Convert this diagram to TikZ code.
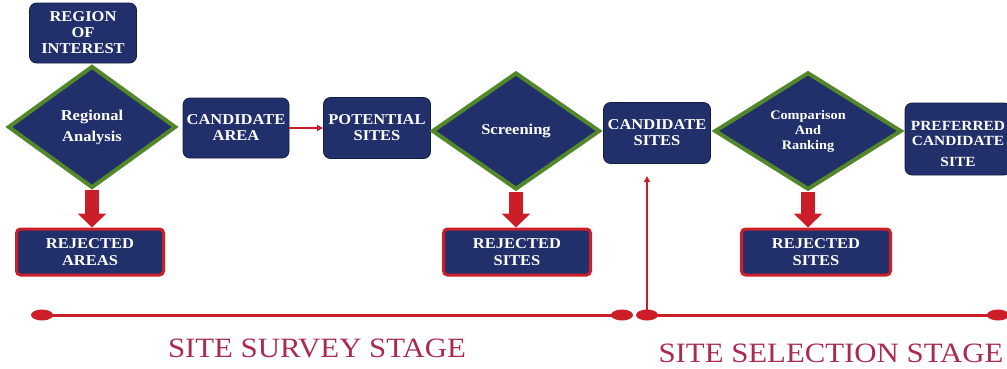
\documentclass[tikz,border=0pt]{standalone}
\usepackage{fontspec}
\setmainfont{Liberation Serif}[FakeStretch=1.1]
\usetikzlibrary{arrows.meta}
\usetikzlibrary{shapes.geometric}

\definecolor{navyfill}{RGB}{33,48,106}
\definecolor{leafgreen}{RGB}{82,136,42}
\definecolor{rejectred}{RGB}{204,30,40}
\definecolor{stagered}{RGB}{170,42,82}

\tikzset{
  box/.style={rectangle, rounded corners=7pt, fill=navyfill, draw=navyfill!60!black,
    line width=0.8pt, text=white, align=center, inner sep=0pt,
    font=\fontsize{15}{16}\selectfont\bfseries},
  decision/.style={diamond, fill=navyfill, draw=leafgreen, line width=4pt,
    text=white, align=center, inner sep=0pt,
    font=\fontsize{15}{16}\selectfont\bfseries},
  rejectbox/.style={rectangle, rounded corners=4pt, fill=navyfill, draw=rejectred,
    line width=3pt, text=white, align=center, inner sep=0pt,
    minimum width=147pt, minimum height=46pt,
    font=\fontsize{15}{17}\selectfont\bfseries},
  droparrow/.style={draw=rejectred, line width=14pt, -{Triangle[width=28pt,length=14pt]}},
  linkarrow/.style={draw=rejectred, line width=1.5pt, -{Triangle[width=6pt,length=6pt]}},
  timeline/.style={draw=rejectred, line width=3pt},
  stopdot/.style={ellipse, fill=rejectred, minimum width=22pt, minimum height=11pt, inner sep=0pt},
  stagelabel/.style={text=stagered, font=\fontsize{28}{30}\selectfont}
}

\begin{document}
\begin{tikzpicture}[x=1pt, y=1pt]
            \useasboundingbox (0,0) rectangle (1007,-368);

            % top row
            \node[box, minimum width=107pt, minimum height=60pt] (roi) at (83,-33) {REGION\\OF\\INTEREST};
            \node[decision, minimum width=168pt, minimum height=122pt] (regional) at (92,-127) {Regional\\[5pt]Analysis};
            \node[box, minimum width=106pt, minimum height=60pt] (carea) at (236,-128) {CANDIDATE\\AREA};
            \node[box, minimum width=107pt, minimum height=61pt] (psites) at (377,-128) {POTENTIAL\\SITES};
            \node[decision, minimum width=168pt, minimum height=117pt] (screening) at (516,-131) {Screening};
            \node[box, minimum width=107pt, minimum height=61pt] (csites) at (657,-133) {CANDIDATE\\SITES};
            \node[decision, minimum width=187pt, minimum height=117pt,
                  font=\fontsize{13}{15}\selectfont\bfseries] (ranking) at (808,-131) {Comparison\\And\\Ranking};
            \node[box, minimum width=106pt, minimum height=72pt,
                  font=\fontsize{14}{15}\selectfont\bfseries] (preferred) at (958,-139)
                  {\raisebox{-6pt}[\height][\depth]{\begin{tabular}{@{}c@{}}PREFERRED\\[0pt]CANDIDATE\\[6pt]SITE\end{tabular}}};

            % rejected boxes
            \node[rejectbox] (rareas) at (90,-252) {REJECTED\\AREAS};
            \node[rejectbox] (rsites) at (517,-252) {REJECTED\\SITES};
            \node[rejectbox, minimum width=149pt] (rsitesb) at (816,-252) {REJECTED\\SITES};

            \draw[droparrow] (regional.south) -- (regional.south |- rareas.north);
            \draw[droparrow] (screening.south) -- (screening.south |- rsites.north);
            \draw[droparrow] (ranking.south) -- (ranking.south |- rsitesb.north);
            \draw[linkarrow] (carea.east) -- (psites.west);

            % stage lines
            \node[stopdot] (surveystart) at (42,-315) {};
            \node[stopdot] (surveyend) at (622,-315) {};
            \node[stopdot] (selectstart) at (647,-315) {};
            \node[stopdot] (selectend) at (998,-315) {};
            \coordinate (csitesin) at (647,-176);

            \draw[timeline] (surveystart.center) -- (surveyend.center);
            \draw[timeline] (selectstart.center) -- (selectend.center);
            \draw[linkarrow] (selectstart.center) -- (csitesin);

            \node[stagelabel] (survey) at (317,-348) {SITE SURVEY STAGE};
            \node[stagelabel] (selection) at (831,-353) {SITE SELECTION STAGE};
        \end{tikzpicture}
\end{document}
